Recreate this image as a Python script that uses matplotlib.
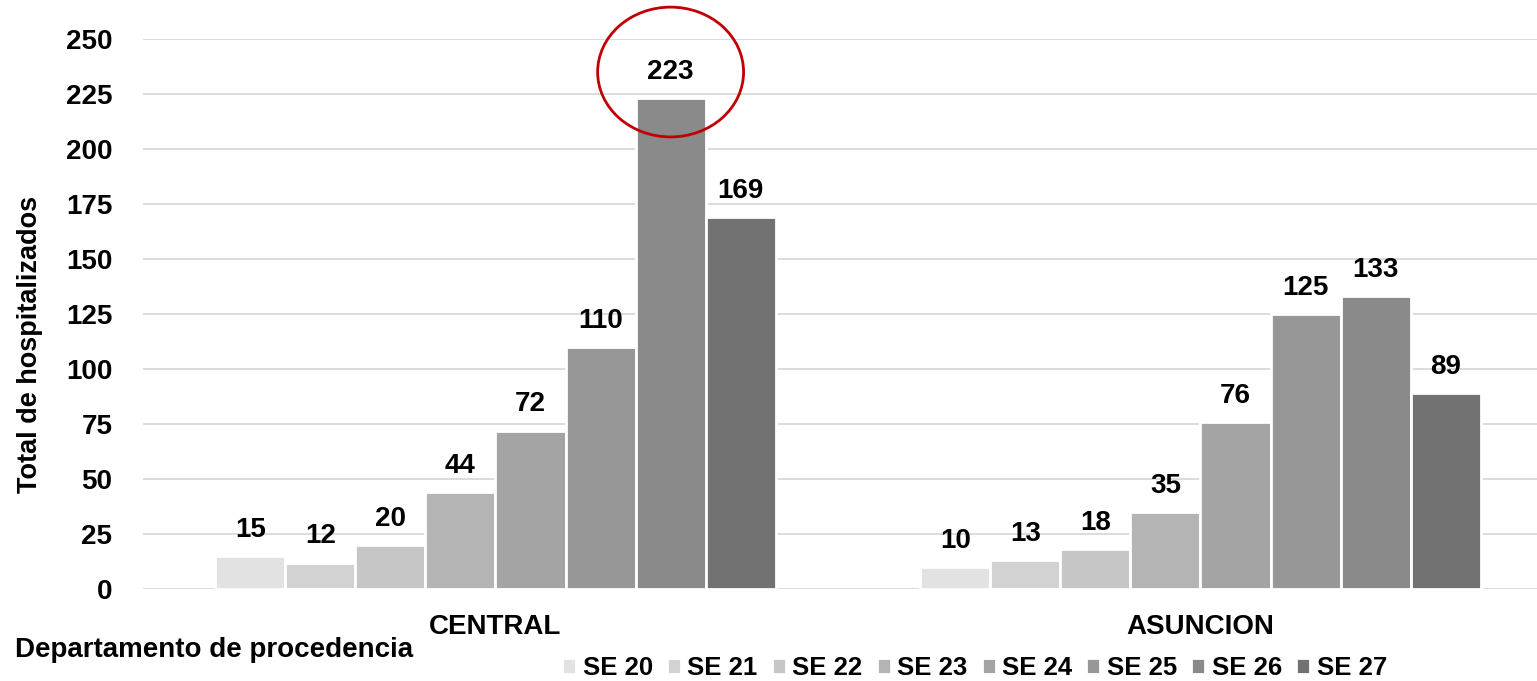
import matplotlib
matplotlib.use("Agg")
import matplotlib.pyplot as plt
from matplotlib.patches import Ellipse
import numpy as np

# departments and epidemiological weeks
departments = ["CENTRAL", "ASUNCION"]
weeks = ["SE 20", "SE 21", "SE 22", "SE 23", "SE 24", "SE 25", "SE 26", "SE 27"]
central = [15, 12, 20, 44, 72, 110, 223, 169]
asuncion = [10, 13, 18, 35, 76, 125, 133, 89]
colors = ["#e2e2e2", "#d2d2d2", "#c6c6c6", "#b4b4b4", "#a4a4a4",
          "#979797", "#8a8a8a", "#727272"]

plt.rcParams["font.family"] = ["Liberation Sans", "DejaVu Sans"]
plt.rcParams["font.weight"] = "bold"
FS = 20

fig = plt.figure(figsize=(15.37, 6.81), dpi=100)
# axes runs a bit past the right edge, like the original
ax = fig.add_axes([0.093, 0.135, 0.9174, 0.8077])

values = np.array([central, asuncion])
x = np.arange(len(departments))
n = len(weeks)
group_w = 0.795
bw = group_w / n

for i, wk in enumerate(weeks):
    pos = x - group_w / 2 + bw * (i + 0.5)
    bars = ax.bar(pos, values[:, i], width=bw, color=colors[i],
                  edgecolor="white", linewidth=2, label=wk, zorder=3)
    for b, v in zip(bars, values[:, i]):
        ax.text(b.get_x() + b.get_width() / 2, v + 6, str(v),
                ha="center", va="bottom", fontsize=FS, fontweight="bold")

# highlight the peak (CENTRAL, SE 26)
peak = int(np.argmax(central))
peak_x = x[0] - group_w / 2 + bw * (peak + 0.5)
ax.add_patch(Ellipse((peak_x, central[peak] + 12), width=0.207, height=59,
                     fill=False, edgecolor="#c00000", linewidth=2,
                     zorder=5, clip_on=False))

ax.set_xlim(-0.5, 1.5)
ax.set_ylim(0, 250)
ax.set_yticks(np.arange(0, 251, 25))
ax.set_xticks(x)
ax.set_xticklabels(departments)
ax.tick_params(axis="both", length=0, labelsize=FS)
ax.tick_params(axis="x", pad=18)
ax.tick_params(axis="y", pad=22)
for lbl in ax.get_xticklabels() + ax.get_yticklabels():
    lbl.set_fontweight("bold")

ax.yaxis.grid(True, color="#d9d9d9", linewidth=1.3, zorder=0)
ax.set_axisbelow(True)
for s in ax.spines.values():
    s.set_visible(False)

ax.set_ylabel("Total de hospitalizados", fontsize=19.5, fontweight="bold")
ax.yaxis.set_label_coords(-0.071, 0.444)
fig.text(0.0098, 1 - 650 / 681, "Departamento de procedencia", fontsize=FS,
         fontweight="bold", ha="left", va="center")

fig.legend(loc="center", bbox_to_anchor=(0.634, 1 - 668 / 681), ncol=8,
           frameon=False, fontsize=18.5, handlelength=0.55, handleheight=0.55,
           handletextpad=0.25, columnspacing=0.55)

fig.savefig("out.png", dpi=100)
